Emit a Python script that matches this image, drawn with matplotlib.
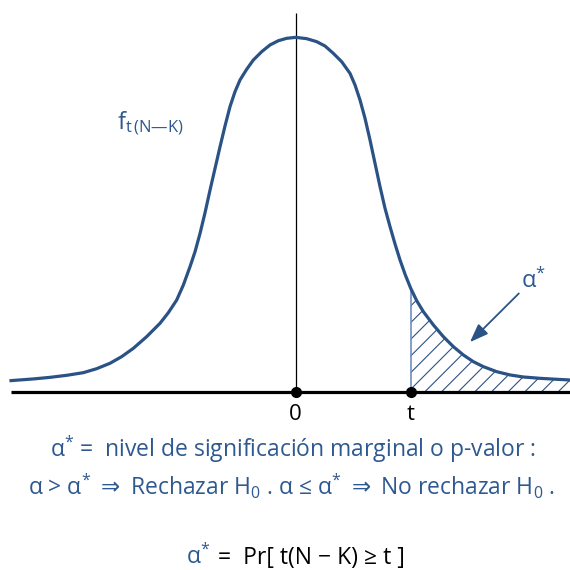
import matplotlib
matplotlib.use('Agg')
import matplotlib.pyplot as plt
import numpy as np

# density curve (x in units where t = 2, peak about 0.40)
x_pts = [-4.951, -4.563, -4.273, -3.983, -3.693, -3.461, -3.230, -3.027, -2.824, -2.592,
         -2.360, -2.215, -2.070, -1.954, -1.838, -1.751, -1.664, -1.577, -1.490, -1.403,
         -1.316, -1.230, -1.143, -1.056, -0.969, -0.853, -0.737, -0.592, -0.447, -0.302,
         -0.157, 0.0,
         0.191, 0.365, 0.510, 0.654, 0.799, 0.944, 1.031, 1.118, 1.205, 1.292,
         1.379, 1.466, 1.553, 1.640, 1.727, 1.814, 1.906, 2.000, 2.104, 2.220,
         2.394, 2.567, 2.741, 2.915, 3.089, 3.263, 3.495, 3.727, 3.959, 4.249,
         4.539, 4.770]
y_pts = [0.0125, 0.0144, 0.0162, 0.0185, 0.0215, 0.0260, 0.0321, 0.0396, 0.0490, 0.0622,
         0.0773, 0.0893, 0.1036, 0.1206, 0.1413, 0.1582, 0.1789, 0.2023, 0.2279, 0.2524,
         0.2769, 0.3002, 0.3221, 0.3390, 0.3522, 0.3643, 0.3748, 0.3842, 0.3918, 0.3966,
         0.3993, 0.4004,
         0.3989, 0.3955, 0.3906, 0.3823, 0.3729, 0.3597, 0.3466, 0.3296, 0.3089, 0.2844,
         0.2580, 0.2317, 0.2072, 0.1865, 0.1669, 0.1488, 0.1319, 0.1168, 0.1028, 0.0904,
         0.0754, 0.0622, 0.0509, 0.0415, 0.0339, 0.0283, 0.0226, 0.0189, 0.0166, 0.0151,
         0.0140, 0.0132]
t_val = 2.0
tick_pos = [0.0, t_val]
tick_labels = ['0', 't']

blue = '#2B5285'
txt_blue = '#2E5990'

plt.rcParams['font.family'] = ['Open Sans', 'DejaVu Sans']
plt.rcParams['mathtext.fontset'] = 'custom'
plt.rcParams['mathtext.rm'] = 'Open Sans'
plt.rcParams['mathtext.it'] = 'Open Sans'
plt.rcParams['mathtext.sf'] = 'DejaVu Sans'
plt.rcParams['mathtext.default'] = 'regular'
plt.rcParams['mathtext.fallback'] = 'stix'
plt.rcParams['hatch.color'] = blue
plt.rcParams['hatch.linewidth'] = 0.8

x = np.array(x_pts)
y = np.array(y_pts)

fig = plt.figure(figsize=(5.7, 5.7), dpi=100)
ax = fig.add_axes([0, 0, 1, 1])
ax.set_xlim(-5.143, 4.770)
ax.set_ylim(-0.2015, 0.4426)
ax.axis('off')

# shaded tail
m = x >= t_val
ax.fill_between(x[m], y[m], 0, facecolor='none', edgecolor=blue, hatch='//', linewidth=0)
ax.vlines(t_val, 0, y[m][0], color='#6F8FC0', lw=1.2)

# axes
ax.vlines(0, 0, 0.428, color='black', lw=0.9)
ax.plot([x[0], x[-1]], [0, 0], color='black', lw=2.3, solid_capstyle='butt')
ax.plot(tick_pos, [0, 0], 'o', color='black', ms=7)

ax.plot(x, y, color=blue, lw=2.3, solid_joinstyle='round')

# arrow + labels
ax.annotate('', xy=(3.03, 0.056), xytext=(3.88, 0.111),
            arrowprops=dict(arrowstyle='-|>,head_length=0.8,head_width=0.3',
                            color=blue, lw=1.3, mutation_scale=14, shrinkA=0, shrinkB=0))
ax.text(4.13, 0.125, r'α$^{*}$', color=txt_blue, fontsize=17, ha='center', va='center')
ax.text(-3.11, 0.296, r'f$_{\mathrm{t\,(N—K)}}$', color=txt_blue, fontsize=17,
        ha='left', va='baseline')

W, H = 570.0, 570.0
for p, lab in zip(tick_pos, tick_labels):
    px = 295.7 + 57.5 * p
    fig.text(px / W, 1 - 415 / H, lab, fontsize=16, ha='center', va='center')

fig.text(292.5 / W, 1 - 457 / H, r'α$^{*}$ =  nivel de significación marginal o p-valor :',
         color=txt_blue, fontsize=16.5, ha='center', va='baseline')
fig.text(291.5 / W, 1 - 495 / H,
         r'α > α$^{*}$ $\mathsf{\Rightarrow}$ Rechazar H$_{0}$ . α ≤ α$^{*}$ '
         r'$\mathsf{\Rightarrow}$ No rechazar H$_{0}$ .',
         color=txt_blue, fontsize=16.5, ha='center', va='baseline')
fig.text(210 / W, 1 - 564 / H, r'α$^{*}$', color=txt_blue, fontsize=16.5,
         ha='right', va='baseline')
fig.text(218 / W, 1 - 564 / H, r'=  Pr[ t(N − K) ≥ t ]', color='black', fontsize=16.5,
         ha='left', va='baseline')

fig.savefig('out.png', dpi=100)
